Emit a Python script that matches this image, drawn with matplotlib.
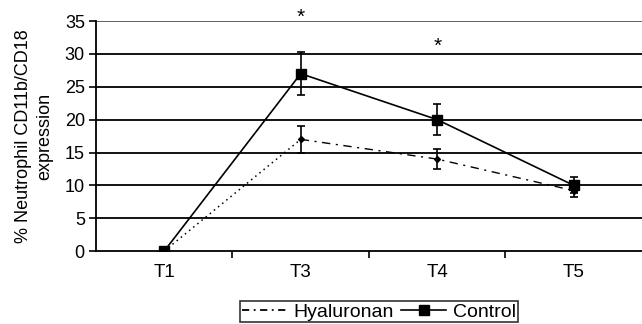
import matplotlib
matplotlib.use("Agg")
import matplotlib.pyplot as plt
from matplotlib.lines import Line2D

plt.rcParams['font.family'] = ['Liberation Sans', 'DejaVu Sans']

times = ["T1", "T3", "T4", "T5"]
hyaluronan = [0, 17, 14, 9.2]
hyaluronan_err = [0, 2.1, 1.5, 1.0]
control = [0, 27, 20, 10]
control_err = [0, 3.3, 2.4, 1.2]
stars = {"T3": 35.5, "T4": 31.1}

fig = plt.figure(figsize=(6.42, 3.24), dpi=100)
ax = fig.add_axes([0.1495, 0.225, 0.8505, 0.71])

x = list(range(1, len(times) + 1))
for y in range(5, 36, 5):
    ax.axhline(y, color="black" if y < 35 else "#555555", lw=1.3, zorder=1)

# Hyaluronan: the steep first segment renders as dots in the original
ax.plot(x[:2], hyaluronan[:2], color="black", lw=1.1,
        linestyle=(0, (1, 2.5)), zorder=3)
ax.plot(x[1:], hyaluronan[1:], color="black", lw=1.0,
        linestyle=(0, (6, 4, 1.5, 4)), zorder=3)
ax.errorbar(x, hyaluronan, yerr=hyaluronan_err, color="black", lw=0,
            marker="D", markersize=3, capsize=3, elinewidth=1.2,
            capthick=1.2, zorder=3)
ax.errorbar(x, control, yerr=control_err, color="black", lw=1.2,
            marker="s", markersize=7, capsize=3, elinewidth=1.2,
            capthick=1.2, zorder=4)

for t, yv in stars.items():
    ax.text(times.index(t) + 1, yv, "*", ha="center", va="center",
            fontsize=15, clip_on=False)

ax.set_xlim(0.5, 4.5)
ax.set_ylim(0, 35)
ax.set_yticks(range(0, 36, 5))
ax.set_xticks(x)
ax.set_xticklabels(times)
ax.set_xticks([1.5, 2.5, 3.5], minor=True)
ax.tick_params(axis="x", which="major", length=0, pad=9, labelsize=13.5)
ax.tick_params(axis="x", which="minor", length=5, width=1.2)
ax.tick_params(axis="y", length=5, width=1.2, labelsize=13, pad=3)
for s in ["top", "right"]:
    ax.spines[s].set_visible(False)
ax.spines["left"].set_linewidth(1.3)
ax.spines["bottom"].set_linewidth(1.3)
ax.set_ylabel("% Neutrophil CD11b/CD18\nexpression", fontsize=13,
              linespacing=1.35, labelpad=8)

handles = [Line2D([], [], color="black", lw=1.3, linestyle=(0, (4, 2.5, 1, 2.5))),
           Line2D([], [], color="black", lw=1.2, marker="s", markersize=7)]
leg = fig.legend(handles, ["Hyaluronan", "Control"], loc="upper center",
                 bbox_to_anchor=(0.59, 0.071), ncol=2, frameon=True,
                 fancybox=False, edgecolor="black", fontsize=14,
                 handlelength=2.3, handletextpad=0.35, columnspacing=0.4,
                 borderpad=0.1, borderaxespad=0)
leg.get_frame().set_linewidth(1.2)

fig.savefig("out.png", dpi=100)
